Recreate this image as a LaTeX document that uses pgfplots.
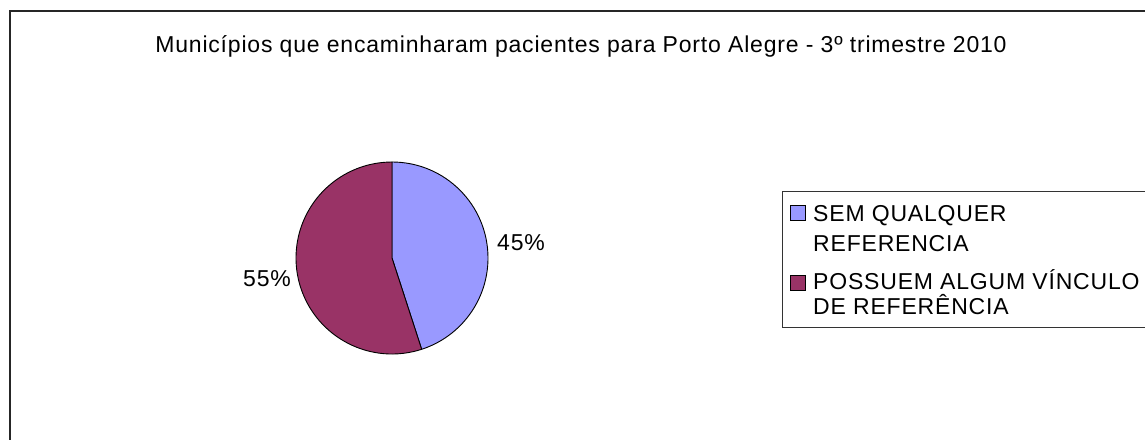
\documentclass[border=0pt]{standalone}
\usepackage{pgfplots}
\pgfplotsset{compat=1.18}
\usepackage{pgfplotstable}
\usepackage{fontspec}
\setmainfont{Liberation Sans}[LetterSpace=3.5]
\definecolor{sliceA}{HTML}{9999FF}
\definecolor{sliceB}{HTML}{993366}
\pgfplotstableread{
label value
A 45
B 55
}\piedata
\begin{document}
\begin{tikzpicture}
\pgfplotstablegetelem{0}{value}\of\piedata \let\va\pgfplotsretval
\pgfplotstablegetelem{1}{value}\of\piedata \let\vb\pgfplotsretval
\pgfmathsetmacro\angA{90-3.6*\va}
\pgfmathsetmacro\angB{\angA-3.6*\vb}
\fontsize{23pt}{27pt}\selectfont
\begin{axis}[
  at={(0,0)}, anchor=south west,
  scale only axis, width=1145pt, height=439pt,
  xmin=0, xmax=1145, ymin=0, ymax=439,
  hide axis, clip=true,
]
\coordinate (bl) at (axis cs:0,0);
\coordinate (tr) at (axis cs:1145,439);
% outer frame
\draw[line width=1.6pt, black!85] (axis cs:1160,428) -- (axis cs:10,428) -- (axis cs:10,-20);
% title
\node[anchor=base, inner sep=0pt] at (axis cs:581,386) {Municípios que encaminharam pacientes para Porto Alegre - 3º trimestre 2010};
% pie
\filldraw[fill=sliceA, draw=black, line width=0.9pt] (axis cs:392,181) -- ++(90:96pt) arc[start angle=90, end angle=\angA, radius=96pt] -- cycle;
\filldraw[fill=sliceB, draw=black, line width=0.9pt] (axis cs:392,181) -- ++(\angA:96pt) arc[start angle=\angA, end angle=\angB, radius=96pt] -- cycle;
\node[anchor=base west, inner sep=0pt] at (axis cs:497,188) {45\%};
\node[anchor=base west, inner sep=0pt] at (axis cs:243,152) {55\%};
% legend
\draw[line width=0.9pt, black!80] (axis cs:1160,248) -- (axis cs:782,248) -- (axis cs:782,112) -- (axis cs:1160,112);
\filldraw[fill=sliceA, draw=black, line width=0.9pt] (axis cs:790,219) rectangle (axis cs:805,234);
\filldraw[fill=sliceB, draw=black, line width=0.9pt] (axis cs:790,149) rectangle (axis cs:805,164);
\node[anchor=base west, inner sep=0pt] at (axis cs:813,217) {SEM QUALQUER};
\node[anchor=base west, inner sep=0pt] at (axis cs:813,187) {REFERENCIA};
\node[anchor=base west, inner sep=0pt] at (axis cs:813,149) {POSSUEM ALGUM VÍNCULO};
\node[anchor=base west, inner sep=0pt] at (axis cs:813,124) {DE REFERÊNCIA};
\end{axis}
\pgfresetboundingbox
\path[use as bounding box] (bl) rectangle (tr);
\end{tikzpicture}
\end{document}
